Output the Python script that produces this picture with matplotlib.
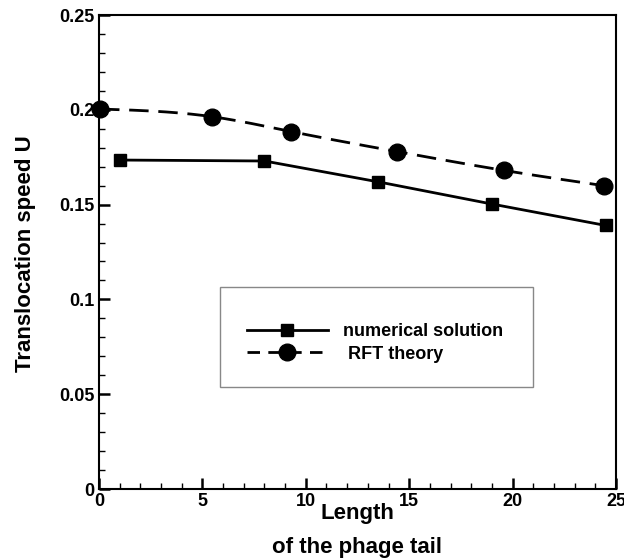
import numpy as np
import matplotlib
matplotlib.use("Agg")
import matplotlib.pyplot as plt
from matplotlib.lines import Line2D
from matplotlib.patches import Rectangle
from matplotlib.ticker import MultipleLocator

plt.rcParams['font.family'] = ['Liberation Sans', 'DejaVu Sans']
plt.rcParams['font.weight'] = 'bold'

# tail length vs translocation speed
len_num = [1.0, 8.0, 13.5, 19.0, 24.5]
u_num = [0.1735, 0.173, 0.162, 0.1503, 0.139]

len_rft = [0.05, 5.45, 9.3, 14.4, 19.6, 24.4]
u_rft = [0.2004, 0.1964, 0.1885, 0.178, 0.168, 0.160]


def natural_spline(x, y, n=300):
    # natural cubic spline through the points, for a smooth dashed curve
    x = np.asarray(x, float)
    y = np.asarray(y, float)
    h = np.diff(x)
    m = len(x)
    A = np.zeros((m, m))
    b = np.zeros(m)
    A[0, 0] = A[-1, -1] = 1
    for i in range(1, m - 1):
        A[i, i - 1] = h[i - 1]
        A[i, i] = 2 * (h[i - 1] + h[i])
        A[i, i + 1] = h[i]
        b[i] = 6 * ((y[i + 1] - y[i]) / h[i] - (y[i] - y[i - 1]) / h[i - 1])
    M = np.linalg.solve(A, b)
    xs = np.linspace(x[0], x[-1], n)
    idx = np.clip(np.searchsorted(x, xs) - 1, 0, m - 2)
    x0, x1 = x[idx], x[idx + 1]
    hh = x1 - x0
    ys = (M[idx] * (x1 - xs) ** 3 / (6 * hh) + M[idx + 1] * (xs - x0) ** 3 / (6 * hh)
          + (y[idx] / hh - M[idx] * hh / 6) * (x1 - xs)
          + (y[idx + 1] / hh - M[idx + 1] * hh / 6) * (xs - x0))
    return xs, ys


fig = plt.figure(figsize=(6.24, 5.59), dpi=100)
ax = fig.add_axes([99 / 624, 1 - 489 / 559, 517 / 624, 474 / 559])

ax.plot(len_num, u_num, color='black', lw=2, marker='s', ms=8, clip_on=False)
xs, ys = natural_spline(len_rft, u_rft)
ax.plot(xs, ys, color='black', lw=2, dashes=(7, 3.5), clip_on=False)
ax.plot(len_rft, u_rft, ls='none', color='black', marker='o', ms=12, clip_on=False)

ax.set_xlim(0, 25)
ax.set_ylim(0, 0.25)
ax.xaxis.set_major_locator(MultipleLocator(5))
ax.xaxis.set_minor_locator(MultipleLocator(1))
ax.yaxis.set_major_locator(MultipleLocator(0.05))
ax.yaxis.set_minor_locator(MultipleLocator(0.01))
ax.set_xticks([0, 5, 10, 15, 20, 25])
ax.set_xticklabels(['0', '5', '10', '15', '20', '25'])
ax.set_yticks([0, 0.05, 0.1, 0.15, 0.2, 0.25])
ax.set_yticklabels(['0', '0.05', '0.1', '0.15', '0.2', '0.25'])
ax.tick_params(which='major', direction='in', length=8, width=1.8, labelsize=13, pad=3)
ax.tick_params(which='minor', direction='in', length=4, width=1)
for s in ax.spines.values():
    s.set_linewidth(1.5)

# two-line x title
fig.text(357 / 624, 1 - 514 / 559, 'Length', fontsize=16, fontweight='bold',
         ha='center', va='center')
fig.text(357 / 624, 1 - 547 / 559, 'of the phage tail', fontsize=16, fontweight='bold',
         ha='center', va='center')

ax.set_ylabel('Translocation speed U', fontsize=16, fontweight='bold')
ax.yaxis.set_label_coords(-0.122, 0.497)

# legend box
ax.add_patch(Rectangle((0.2335, 0.2155), 0.6055, 0.211, transform=ax.transAxes,
                       fill=False, edgecolor='#888888', lw=1, zorder=5))
handles = [
    Line2D([], [], color='black', lw=2, marker='s', ms=8),
    Line2D([], [], color='black', lw=2, dashes=(4.5, 3), marker='o', ms=12),
]
leg = ax.legend(handles, ['numerical solution', ' RFT theory'],
                loc='upper left', bbox_to_anchor=(0.286, 0.350),
                prop={'weight': 'bold', 'size': 13}, frameon=False,
                handlelength=4.5, borderpad=0, labelspacing=0.3,
                borderaxespad=0, handletextpad=0.8)

fig.savefig('out.png', dpi=100)
